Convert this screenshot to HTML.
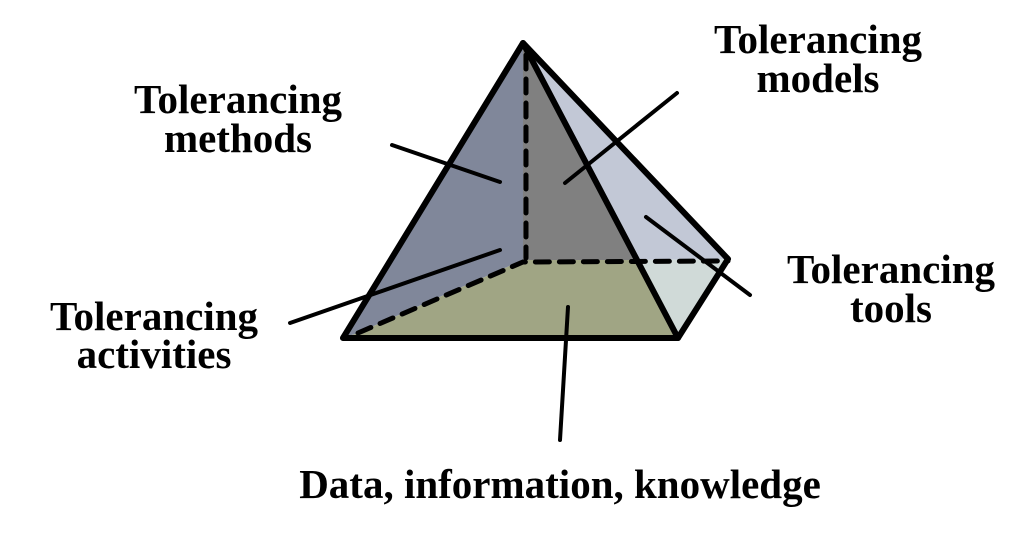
<!DOCTYPE html>
<html><head><style>html,body{margin:0;padding:0;background:#fff;}svg{display:block}</style></head>
<body>
<svg width="1032" height="534" viewBox="0 0 1032 534" xmlns="http://www.w3.org/2000/svg">
<g stroke="none">
<polygon points="523,43 343,338 358,333 523,260" fill="#80879a"/>
<polygon points="523,43 523,260 640,260" fill="#808080"/>
<polygon points="523,43 640,260 728,259" fill="#c2c8d6"/>
<polygon points="640,260 728,259 678,338" fill="#d0dad8"/>
<polygon points="523,260 640,260 678,338 343,338 358,333" fill="#a0a584"/>
</g>
<g stroke="#000" stroke-width="5" fill="none" stroke-linecap="round">
<line x1="526" y1="55" x2="526" y2="258" stroke-dasharray="14,10"/>
<polyline points="358,333 523,262 728,261" stroke-dasharray="14,10"/>
</g>
<g stroke="#000" stroke-width="6" fill="none" stroke-linejoin="round" stroke-linecap="round">
<polygon points="523,43 343,338 678,338"/>
<polyline points="523,43 728,259 678,338"/>
</g>
<g stroke="#000" stroke-width="4" stroke-linecap="round">
<line x1="392" y1="145" x2="500" y2="182"/>
<line x1="677" y1="93" x2="565" y2="183"/>
<line x1="646" y1="217" x2="750" y2="295"/>
<line x1="290" y1="323" x2="500" y2="250"/>
<line x1="568" y1="307" x2="560" y2="440"/>
</g>
<g font-family="Liberation Serif, serif" font-weight="bold" font-size="41" text-anchor="middle" fill="#000">
<text x="238" y="113">Tolerancing</text>
<text x="238" y="152">methods</text>
<text x="818" y="53">Tolerancing</text>
<text x="818" y="92">models</text>
<text x="891" y="283">Tolerancing</text>
<text x="891" y="322">tools</text>
<text x="154" y="330">Tolerancing</text>
<text x="154" y="368">activities</text>
<text x="560" y="498">Data, information, knowledge</text>
</g>
</svg>
</body></html>
